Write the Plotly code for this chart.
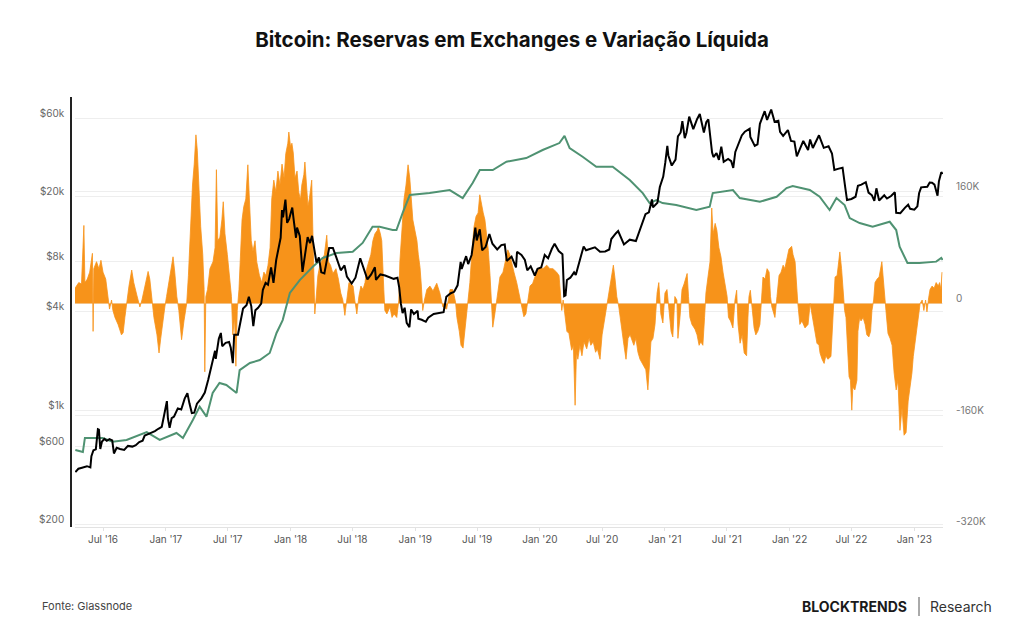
import pandas as pd
import plotly.graph_objects as go

# ---------------- DATA ----------------
price_dates = [
    "2016-04-11","2016-04-20","2016-04-28","2016-05-05","2016-05-15","2016-05-25","2016-05-28","2016-06-03",
    "2016-06-10","2016-06-16","2016-06-19","2016-06-23","2016-06-28","2016-07-05","2016-07-12","2016-07-20",
    "2016-07-28","2016-08-02","2016-08-10","2016-08-20","2016-09-01","2016-09-12","2016-09-25","2016-10-05",
    "2016-10-15","2016-10-25","2016-10-31","2016-11-10","2016-11-20","2016-11-30","2016-12-10","2016-12-20",
    "2016-12-27","2017-01-04","2017-01-07","2017-01-12","2017-01-18","2017-01-25","2017-02-05","2017-02-15",
    "2017-02-25","2017-03-05","2017-03-11","2017-03-18","2017-03-25","2017-04-02","2017-04-15","2017-04-25",
    "2017-05-05","2017-05-12","2017-05-20","2017-05-25","2017-05-27","2017-06-05","2017-06-11","2017-06-15",
    "2017-06-25","2017-07-05","2017-07-10","2017-07-16","2017-07-20","2017-07-31","2017-08-05","2017-08-15",
    "2017-08-25","2017-09-01","2017-09-08","2017-09-14","2017-09-20","2017-09-28","2017-10-07","2017-10-12",
    "2017-10-20","2017-10-27","2017-11-05","2017-11-12","2017-11-20","2017-11-28","2017-12-03","2017-12-07",
    "2017-12-10","2017-12-17","2017-12-22","2017-12-28","2018-01-06","2018-01-10","2018-01-17","2018-01-20",
    "2018-01-28","2018-02-05","2018-02-12","2018-02-20","2018-02-27","2018-03-05","2018-03-18","2018-03-25",
    "2018-04-01","2018-04-10","2018-04-24","2018-05-05","2018-05-15","2018-05-28","2018-06-08","2018-06-15",
    "2018-06-29","2018-07-10","2018-07-24","2018-08-05","2018-08-14","2018-08-25","2018-09-05","2018-09-08",
    "2018-09-21","2018-10-05","2018-10-15","2018-10-30","2018-11-10","2018-11-15","2018-11-20","2018-11-25",
    "2018-12-01","2018-12-07","2018-12-15","2018-12-20","2018-12-28","2019-01-08","2019-01-10","2019-01-20",
    "2019-02-01","2019-02-08","2019-02-24","2019-03-10","2019-03-25","2019-04-02","2019-04-15","2019-04-25",
    "2019-05-05","2019-05-14","2019-05-17","2019-05-30","2019-06-05","2019-06-15","2019-06-26","2019-06-30",
    "2019-07-09","2019-07-16","2019-07-26","2019-08-06","2019-08-15","2019-08-29","2019-09-10","2019-09-20",
    "2019-09-26","2019-10-10","2019-10-23","2019-10-26","2019-11-08","2019-11-18","2019-11-25","2019-12-05",
    "2019-12-17","2019-12-25","2020-01-05","2020-01-15","2020-01-25","2020-02-05","2020-02-13","2020-02-25",
    "2020-03-07","2020-03-12","2020-03-16","2020-03-20","2020-03-30","2020-04-10","2020-04-15","2020-04-30",
    "2020-05-08","2020-05-15","2020-05-28","2020-06-10","2020-06-25","2020-07-10","2020-07-22","2020-07-28",
    "2020-08-10","2020-08-17","2020-09-03","2020-09-20","2020-10-08","2020-10-21","2020-11-05","2020-11-15",
    "2020-11-24","2020-11-27","2020-12-10","2020-12-17","2020-12-27","2021-01-02","2021-01-08","2021-01-11",
    "2021-01-21","2021-02-01","2021-02-08","2021-02-16","2021-02-21","2021-02-28","2021-03-05","2021-03-13",
    "2021-03-25","2021-04-05","2021-04-13","2021-04-25","2021-05-02","2021-05-08","2021-05-12","2021-05-19",
    "2021-05-23","2021-06-01","2021-06-08","2021-06-15","2021-06-22","2021-07-05","2021-07-14","2021-07-20",
    "2021-07-26","2021-08-01","2021-08-14","2021-08-23","2021-09-06","2021-09-08","2021-09-21","2021-09-29",
    "2021-10-06","2021-10-20","2021-10-27","2021-11-08","2021-11-18","2021-11-29","2021-12-04","2021-12-13",
    "2021-12-27","2022-01-05","2022-01-15","2022-01-22","2022-01-29","2022-02-10","2022-02-24","2022-03-02",
    "2022-03-10","2022-03-28","2022-04-11","2022-04-25","2022-05-05","2022-05-12","2022-05-25","2022-06-05",
    "2022-06-13","2022-06-18","2022-07-01","2022-07-13","2022-07-20","2022-07-30","2022-08-12","2022-08-20",
    "2022-08-30","2022-09-06","2022-09-12","2022-09-20","2022-10-05","2022-10-13","2022-10-25","2022-11-05",
    "2022-11-09","2022-11-21","2022-12-05","2022-12-14","2022-12-20","2023-01-01","2023-01-10","2023-01-15",
    "2023-01-21","2023-01-30","2023-02-08","2023-02-15","2023-02-22","2023-03-01","2023-03-10","2023-03-14",
    "2023-03-18","2023-03-21","2023-03-24","2023-03-25",
]
price_usd = [
    420,440,445,448,456,448,525,570,
    577,765,760,580,645,668,650,666,
    655,545,590,580,572,606,600,612,
    640,652,700,715,730,745,770,792,
    935,1135,890,780,895,915,1025,1010,
    1175,1270,1100,960,965,1095,1180,1280,
    1530,1750,2050,2300,2050,2720,2950,2450,
    2570,2600,2400,1930,2880,2880,3250,4150,
    4350,4900,4300,3250,4050,4200,4450,5400,
    5950,5800,7400,5950,8200,9900,11200,16500,
    14900,19100,13800,14600,17100,14500,11200,12900,
    11500,6950,8900,11300,10400,11500,7900,8500,
    6900,6800,9700,9700,8500,7100,7600,6500,
    5900,6400,8400,7000,6250,6700,7400,6200,
    6700,6600,6500,6300,6400,5600,4450,3900,
    4200,3400,3200,4100,3850,4020,3600,3550,
    3450,3650,3850,3900,3950,4900,5150,5250,
    5750,8000,7250,8650,7750,8800,12900,10800,
    12600,9400,9850,11800,10300,9500,10100,10200,
    8100,8600,7400,9200,8800,8200,7100,7500,
    6600,7250,7400,8800,8400,9600,10300,9300,
    8900,4950,5000,6200,6400,6900,6650,8650,
    9900,9400,9600,9800,9200,9250,9500,11000,
    11900,12300,10200,10900,10700,12800,15600,16000,
    19150,17150,18300,22800,26400,32100,40600,35500,
    30800,33500,46400,49000,57500,45200,48800,61200,
    51300,59000,63500,49000,56600,58800,49200,37000,
    34700,36700,33400,40200,32500,33800,32800,29800,
    37300,39900,47000,49500,51700,46000,40600,41500,
    55300,66000,58400,67500,56900,57800,49400,46700,
    50700,43500,43100,35000,38200,43500,38300,44400,
    39400,47100,39500,40400,36500,29000,29500,29900,
    22500,19000,19300,19900,23200,23600,24400,21100,
    20300,18800,22400,18900,20300,19400,20100,21200,
    15900,15800,17100,17800,16800,16600,17400,20900,
    22700,22800,22900,24300,24200,23600,20200,24700,
    27400,28100,27500,27900,
]

reserve_dates = [
    "2016-04-11","2016-05-03","2016-05-09","2016-06-30","2016-07-29","2016-09-08","2016-11-06","2016-12-14",
    "2017-02-01","2017-02-20","2017-03-21","2017-04-10","2017-04-30","2017-05-18","2017-06-07","2017-06-27",
    "2017-07-27","2017-08-05","2017-09-04","2017-10-03","2017-11-01","2017-11-21","2017-12-09","2017-12-30",
    "2018-01-28","2018-03-07","2018-04-05","2018-05-16","2018-07-02","2018-07-31","2018-08-29","2018-09-19",
    "2018-10-27","2018-11-07","2018-11-25","2018-12-16","2019-02-12","2019-04-12","2019-05-20","2019-06-18",
    "2019-07-09","2019-08-16","2019-09-25","2019-11-22","2020-01-09","2020-02-27","2020-03-13","2020-03-28",
    "2020-05-05","2020-06-14","2020-08-01","2020-09-20","2020-10-28","2020-11-17","2020-12-07","2020-12-25",
    "2021-02-03","2021-04-03","2021-05-12","2021-05-21","2021-07-19","2021-08-08","2021-10-06","2021-11-24",
    "2021-12-23","2022-01-10","2022-03-01","2022-03-30","2022-04-28","2022-05-18","2022-06-11","2022-06-26",
    "2022-07-25","2022-09-01","2022-10-21","2022-11-09","2022-11-19","2022-12-12","2023-01-16","2023-03-06",
    "2023-03-21","2023-03-25",
]
reserve_mbtc = [
    0.772,0.756,0.863,0.863,0.835,0.848,0.908,0.848,
    0.901,0.863,1.000,1.101,1.025,1.205,1.281,1.266,
    1.205,1.379,1.433,1.455,1.509,1.661,1.759,1.965,
    2.063,2.164,2.231,2.269,2.278,2.345,2.468,2.468,
    2.443,2.443,2.572,2.709,2.724,2.747,2.686,2.800,
    2.899,2.899,2.962,2.990,3.051,3.104,3.158,3.066,
    3.000,2.924,2.924,2.823,2.724,2.648,2.671,2.648,
    2.633,2.595,2.620,2.724,2.747,2.686,2.658,2.696,
    2.762,2.778,2.747,2.696,2.595,2.686,2.633,2.534,
    2.496,2.468,2.506,2.443,2.316,2.193,2.193,2.203,
    2.231,2.215,
]

# net position change: day number counted from 2016-04-10, value in thousands of BTC
netflow_base = "2016-04-10"
netflow_day = [
    0,5,11,19,26,29,36,43,51,53,55,63,70,76,82,90,97,101,107,111,117,126,136,141,146,151,158,166,172,181,
    190,196,205,214,219,225,231,240,246,251,258,263,268,278,287,292,298,304,312,319,327,332,338,344,349,354,
    358,363,368,374,378,380,383,388,395,404,410,414,418,424,430,434,439,446,452,458,462,467,471,475,480,484,
    489,494,500,506,510,516,521,527,532,540,547,553,559,565,571,576,582,588,594,600,606,612,617,623,626,631,
    635,639,644,650,655,660,664,670,673,677,682,686,693,696,699,702,707,711,717,723,730,737,742,748,755,764,
    771,778,784,790,796,802,808,814,819,825,831,837,843,849,854,860,866,872,878,885,888,894,898,904,907,913,
    922,928,934,942,948,951,957,963,969,975,980,985,989,995,1001,1005,1010,1014,1018,1023,1030,1039,1048,1059,
    1068,1077,1088,1098,1106,1114,1118,1125,1130,1136,1140,1144,1150,1156,1162,1168,1174,1180,1185,1190,1195,1200,
    1205,1210,1215,1220,1223,1229,1234,1244,1253,1259,1267,1273,1279,1285,1293,1302,1308,1314,1320,1326,1332,1340,
    1351,1361,1370,1381,1390,1399,1410,1417,1423,1425,1429,1434,1440,1446,1454,1459,1464,1468,1472,1478,1484,1490,
    1498,1505,1510,1517,1524,1529,1537,1543,1548,1554,1560,1566,1572,1576,1581,1586,1592,1597,1601,1607,1613,1619,
    1625,1631,1636,1642,1648,1654,1660,1666,1671,1677,1682,1686,1692,1698,1704,1709,1715,1721,1727,1733,1739,1745,
    1750,1756,1762,1765,1771,1777,1783,1792,1796,1800,1806,1815,1821,1827,1832,1838,1843,1847,1853,1859,1864,1868,
    1874,1879,1885,1891,1897,1903,1909,1913,1919,1926,1932,1937,1941,1947,1953,1959,1966,1970,1973,1977,1982,1988,
    1993,1999,2005,2010,2014,2020,2026,2032,2036,2040,2049,2055,2061,2067,2073,2078,2084,2090,2098,2102,2108,2113,
    2116,2122,2128,2137,2146,2152,2160,2166,2172,2178,2181,2187,2193,2198,2204,2213,2217,2220,2225,2231,2235,2239,
    2244,2248,2253,2257,2262,2266,2270,2274,2277,2283,2289,2292,2297,2301,2307,2313,2318,2324,2329,2333,2338,2342,
    2348,2354,2362,2365,2370,2374,2380,2386,2392,2398,2404,2409,2415,2421,2427,2433,2439,2444,2450,2454,2459,2464,
    2468,2474,2480,2485,2490,2494,2499,2503,2509,2515,2521,2527,2531,2535,2538,
]
netflow_k = [
    22,25,30,28,112,30,35,45,72,-40,50,60,50,62,45,35,10,-8,5,-10,-20,-30,-45,-42,-20,0,25,48,30,12,
    -5,5,25,46,35,5,-20,-45,-71,-50,-20,-5,10,40,67,45,10,-10,-52,-25,0,40,110,170,200,242,
    220,160,110,70,20,-98,10,20,50,60,80,192,90,95,120,146,100,70,40,10,-45,-20,-90,-10,20,70,
    120,139,150,199,150,90,75,90,60,40,30,45,40,55,80,150,177,160,190,170,200,180,215,230,246,225,
    230,216,180,190,160,149,170,185,203,170,140,150,177,110,30,-15,15,40,55,62,70,98,60,55,43,50,
    35,15,5,-17,10,30,28,25,5,-15,10,25,20,30,50,60,70,90,100,105,110,100,90,20,-10,-15,
    -5,-20,-15,-20,5,60,110,149,170,199,180,140,120,105,90,70,52,25,-10,5,20,25,18,29,
    15,-5,-8,20,20,2,-20,-40,-60,-64,-45,-20,0,30,75,110,125,130,156,140,130,120,
    100,76,40,-20,-34,-15,5,38,45,60,77,70,55,45,30,10,-5,-19,-15,5,25,29,
    45,52,50,55,50,50,45,40,10,-10,5,-20,-40,-43,-67,-60,-146,-70,-80,-60,-75,-55,
    -65,-50,-60,-55,-70,-65,-80,-45,-30,-15,5,25,40,55,35,10,-5,-25,-35,-60,-80,-50,
    -45,-55,-60,-50,-70,-80,-85,-90,-95,-124,-90,-55,-50,-30,15,30,-15,-28,15,20,-10,-40,
    -48,10,5,-50,-20,20,28,43,10,-20,-30,-37,-45,-60,-55,-60,-20,15,38,60,137,100,
    115,105,80,67,45,29,10,-20,-25,-35,5,19,-30,-57,-45,-71,-75,-20,10,19,-10,-35,
    -45,-40,-30,10,38,35,50,45,10,-5,-20,10,40,45,55,50,65,78,82,70,60,20,
    0,-30,-25,-35,-30,0,-25,-40,-57,-60,-71,-80,-86,-75,-80,-76,-30,5,38,40,55,74,
    50,20,-10,-20,-60,-105,-110,-153,-120,-124,-110,-40,-20,-25,-20,-30,-45,-48,-40,-10,5,30,
    35,38,60,40,10,-10,-43,-50,-60,-100,-124,-110,-182,-150,-189,-185,-140,-124,-100,-76,-55,-40,
    -20,0,5,-10,5,-12,8,20,25,22,30,25,30,20,45,
]

x_tick_dates = ["2016-07-01","2017-01-01","2017-07-01","2018-01-01","2018-07-01","2019-01-01","2019-07-01",
                "2020-01-01","2020-07-01","2021-01-01","2021-07-01","2022-01-01","2022-07-01","2023-01-01"]
x_tick_text = ["Jul '16","Jan '17","Jul '17","Jan '18","Jul '18","Jan '19","Jul '19",
               "Jan '20","Jul '20","Jan '21","Jul '21","Jan '22","Jul '22","Jan '23"]
price_ticks = [200, 600, 1000, 4000, 8000, 20000, 60000]
price_tick_text = ["$200", "$600", "$1k", "$4k", "$8k", "$20k", "$60k"]
flow_ticks = [-320000, -160000, 0, 160000]
flow_tick_text = ["-320K", "-160K", "0", "160K"]

# ---------------- FIGURE ----------------
W, H = 1024, 644
ML, MR, MT, MB = 60, 81, 97, 117
PW = W - ML - MR
PH = H - MT - MB
PLOT_X0 = 75


def px(xp):
    return (xp - ML) / PW


def py(yp):
    return (H - MB - yp) / PH


FONT = "Inter"
ORANGE = "#F7931A"
GREEN = "#4F9272"

flow_dates = pd.Timestamp(netflow_base) + pd.to_timedelta(netflow_day, unit="D")
flow_vals = [v * 1000 for v in netflow_k]
reserve_btc = [v * 1e6 for v in reserve_mbtc]

fig = go.Figure()
fig.add_trace(go.Scatter(
    x=flow_dates, y=flow_vals, mode="lines", fill="tozeroy",
    line=dict(color=ORANGE, width=0.8), fillcolor=ORANGE,
    yaxis="y", hoverinfo="skip", name="Variação Líquida"))
fig.add_trace(go.Scatter(
    x=pd.to_datetime(reserve_dates), y=reserve_btc, mode="lines",
    line=dict(color=GREEN, width=2), yaxis="y2", name="Reservas"))
fig.add_trace(go.Scatter(
    x=pd.to_datetime(price_dates), y=price_usd, mode="lines",
    line=dict(color="#000000", width=2), yaxis="y3", name="Preço"))

grid = "#eeeeee"
fig.update_layout(
    width=W, height=H,
    margin=dict(l=ML, r=MR, t=MT, b=MB, pad=0),
    paper_bgcolor="white", plot_bgcolor="white",
    showlegend=False,
    font=dict(family=FONT, color="#666"),
    title=dict(text="<b>Bitcoin: Reservas em Exchanges e Variação Líquida</b>",
               x=0.5, xref="container", xanchor="center",
               y=1 - 40 / H, yref="container", yanchor="middle",
               font=dict(family=FONT, size=20.5, color="#111")),
    xaxis=dict(
        domain=[px(PLOT_X0), 1], type="date",
        range=["2016-04-10", "2023-03-26"],
        tickvals=x_tick_dates, ticktext=x_tick_text,
        tickfont=dict(size=10, color="#555"),
        showgrid=False, zeroline=False,
        showline=True, linecolor="#e2e2e2", linewidth=1,
        ticks="outside", ticklen=3, tickcolor="#e2e2e2",
    ),
    yaxis=dict(
        side="right", range=[-320700, 296300],
        tickvals=flow_ticks, ticktext=flow_tick_text,
        tickfont=dict(size=10, color="#777"),
        showgrid=True, gridcolor=grid, gridwidth=1,
        zeroline=False, showline=False, ticks="",
        ticklabelstandoff=12, ticklabelshift=-5,
    ),
    yaxis2=dict(
        overlaying="y", range=[0.1865e6, 3.454e6], visible=False,
    ),
    yaxis3=dict(
        overlaying="y", side="left", type="log",
        range=[2.2888, 4.906],
        anchor="free", position=px(71),
        tickvals=price_ticks, ticktext=price_tick_text,
        tickfont=dict(size=10, color="#666"),
        showgrid=True, gridcolor=grid, gridwidth=1,
        zeroline=False, showline=True, linecolor="#222", linewidth=1.5,
        ticks="", ticklabelstandoff=4, ticklabelshift=-5,
    ),
    annotations=[
        dict(text="Fonte: Glassnode", xref="paper", yref="paper",
             x=px(40), y=py(606), xanchor="left", yanchor="middle",
             showarrow=False, font=dict(family=FONT, size=11, color="#444")),
        dict(text="<b>BLOCKTRENDS</b>", xref="paper", yref="paper",
             x=px(909), y=py(606), xanchor="right", yanchor="middle",
             showarrow=False, font=dict(family=FONT, size=14, color="#1a1a1a")),
        dict(text="Research", xref="paper", yref="paper",
             x=px(928), y=py(606), xanchor="left", yanchor="middle",
             showarrow=False, font=dict(family=FONT, size=14, color="#333")),
    ],
    shapes=[
        dict(type="line", xref="paper", yref="paper",
             x0=px(919), x1=px(919), y0=py(597), y1=py(616),
             line=dict(color="#555", width=1)),
    ],
)

fig.write_html("out.html")
